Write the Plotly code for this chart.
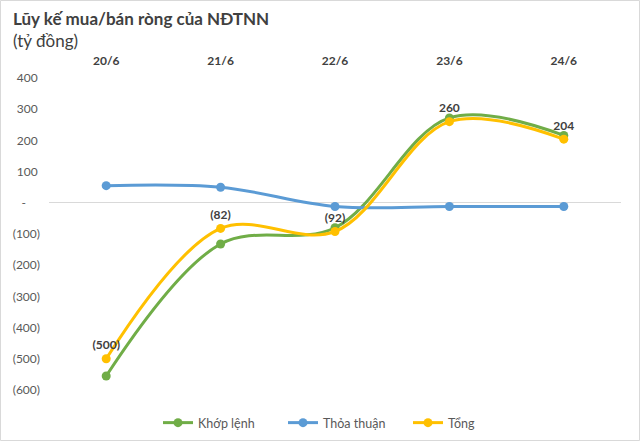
import plotly.graph_objects as go

categories = ["20/6", "21/6", "22/6", "23/6", "24/6"]
khop_lenh = [-555, -132, -80, 272, 216]
thoa_thuan = [55, 50, -12, -12, -12]
tong = [-500, -82, -92, 260, 204]
y_ticks = [400, 300, 200, 100, 0, -100, -200, -300, -400, -500, -600]


def fmt(v):
    if v == 0:
        return "-"
    return f"({abs(v)})" if v < 0 else f"{v}"


def tick_fmt(v):
    if v == 0:
        return "-\u2007\u2007"
    return f"({abs(v)})" if v < 0 else f"{v}\u2009\u200a"


FONT = "Lato, 'Open Sans', sans-serif"
W, H = 640, 441
ml, mr, mt, mb = 49, 19, 78, 51

fig = go.Figure()
series = [
    ("Khớp lệnh", khop_lenh, "#70AD47", False),
    ("Thỏa thuận", thoa_thuan, "#5B9BD5", False),
    ("Tổng", tong, "#FFC000", True),
]
for name, vals, color, lab in series:
    fig.add_trace(go.Scatter(
        x=categories, y=vals, name=name,
        mode="lines+markers+text" if lab else "lines+markers",
        text=[fmt(v) for v in vals] if lab else None,
        textposition="top center",
        textfont=dict(family=FONT, size=12, color="#404040", weight="bold"),
        line=dict(color=color, width=3, shape="spline", smoothing=1),
        marker=dict(color=color, size=9),
    ))

pw = W - ml - mr
ph = H - mt - mb


def px_x(x):
    return (x - ml) / pw


def px_y(y):
    return (ph - (y - mt)) / ph


fig.add_shape(type="rect", xref="paper", yref="paper",
              x0=px_x(0.5), x1=px_x(W - 0.5), y0=px_y(H - 0.5), y1=px_y(0.5),
              line=dict(color="#D9D9D9", width=1), layer="below")

fig.add_annotation(text="<b>Lũy kế mua/bán ròng của NĐTNN</b>", xref="paper", yref="paper",
                   x=px_x(11), y=px_y(18), xanchor="left", yanchor="middle",
                   showarrow=False, font=dict(family=FONT, size=17, color="#404040"))
fig.add_annotation(text="(tỷ đồng)", xref="paper", yref="paper",
                   x=px_x(11), y=px_y(40), xanchor="left", yanchor="middle",
                   showarrow=False, font=dict(family=FONT, size=17, color="#404040"))

fig.update_layout(
    width=W, height=H,
    margin=dict(l=ml, r=mr, t=mt, b=mb, autoexpand=False),
    paper_bgcolor="white", plot_bgcolor="white",
    font=dict(family=FONT, size=12, color="#595959"),
    showlegend=True,
    legend=dict(orientation="h", x=158 / W, xanchor="left", xref="container",
                y=1 - 423 / H, yanchor="middle", yref="container",
                entrywidth=80, entrywidthmode="pixels",
                font=dict(family=FONT, size=12.5, color="#595959"), itemwidth=30),
    xaxis=dict(type="category", side="top", range=[-0.5, 4.5], showgrid=False,
               zeroline=False, showline=False, ticks="", automargin=False,
               ticklabelstandoff=10,
               tickfont=dict(family=FONT, size=12, color="#404040", weight="bold")),
    yaxis=dict(range=[-600, 400], tickvals=y_ticks, ticktext=[tick_fmt(v) for v in y_ticks],
               showgrid=False, zeroline=True, zerolinecolor="#D9D9D9", zerolinewidth=1,
               showline=False, ticks="", automargin=False, ticklabelstandoff=8,
               tickfont=dict(family=FONT, size=12, color="#595959")),
)

fig.write_html("out.html")
